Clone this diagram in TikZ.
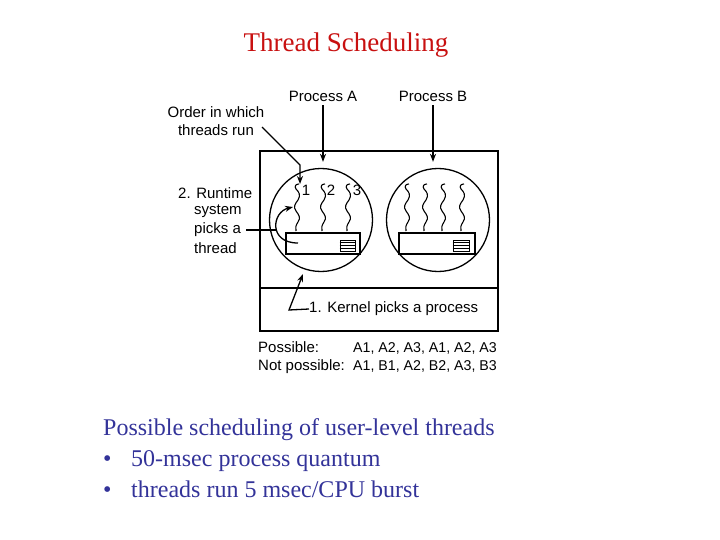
\documentclass[tikz,border=0pt]{standalone}
\usepackage{fontspec}
\setmainfont{Liberation Serif}
\newfontfamily\diag{Liberation Sans}
\usetikzlibrary{arrows.meta,calc}
\definecolor{titlered}{RGB}{200,16,16}
\definecolor{bodyblue}{RGB}{51,51,153}
\begin{document}
\begin{tikzpicture}[x=1pt,y=-1pt,
  lbl/.style={font=\diag\fontsize{15}{18}\selectfont, inner sep=0pt},
  lbls/.style={font=\diag\fontsize{14.2}{17}\selectfont, inner sep=0pt},
  arr/.style={-{Stealth[length=8pt,width=6pt]}, line width=1.3pt},
  thr/.style={line width=1.1pt},
  body/.style={font=\fontsize{24}{28}\selectfont, text=bodyblue, inner sep=0pt, anchor=base west},
  proc/.style={circle, draw, minimum size=103pt, inner sep=0pt, line width=1.3pt},
  tbl/.style={draw, line width=1.1pt, minimum height=21pt, inner sep=0pt},
  stripe/.style={draw, line width=0.9pt, minimum height=11pt, inner sep=0pt},
  wavy/.pic={\draw[thr] (2,0) .. controls (-1,0) and (-3,2) .. (-1,5)
     .. controls (2,8) and (4,11) .. (1,16)
     .. controls (-2,20) and (-4,23) .. (-1,27)
     .. controls (2,31) and (4,34) .. (1,38)
     .. controls (-1,41) and (-2,44) .. (-1,47);}]
\useasboundingbox (0,0) rectangle (720,540);

% title
\node[font=\fontsize{27}{30}\selectfont, text=titlered, inner sep=0pt] (title) at (346,45) {Thread Scheduling};

% outer box and kernel line
\node[draw, line width=1.6pt, minimum width=238pt, minimum height=180pt, inner sep=0pt, anchor=north west] (box) at (259,150) {};
\coordinate (kl) at (259,288);
\coordinate (kr) at (497,288);
\draw[line width=1.4pt] (kl) -- (kr);

% process circles
\node[proc] (ca) at (321,220) {};
\node[proc] (cb) at (438,220) {};

% thread tables
\node[tbl, minimum width=74pt] (ta) at (323,243.5) {};
\node[tbl, minimum width=76pt] (tb) at (437,243.5) {};
\node[stripe, minimum width=15pt] (sa) at (347.5,245.5) {};
\node[stripe, minimum width=16pt] (sb) at (461,245.5) {};
\foreach \s in {sa,sb}{
  \foreach \f in {0.25,0.5,0.75}{
    \draw[line width=1.1pt] ($(\s.north west)!\f!(\s.south west)$) -- ($(\s.north east)!\f!(\s.south east)$);
  }
}

% threads
\foreach \tx in {297,323,348,407,425,443,462}{
  \pic at (\tx,184) {wavy};
}
\node[lbl] (n1) at (306,190) {1};
\node[lbl] (n2) at (331,190) {2};
\node[lbl] (n3) at (357,190) {3};

% process labels and arrows
\node[lbl] (pa) at (323,96) {Process A};
\node[lbl] (pb) at (433,96) {Process B};
\draw[arr, shorten <=4pt, shorten >=6pt] (pa.south) -- (pa.south |- ca.north);
\draw[arr, shorten <=4pt, shorten >=6pt] (pb.south) -- (pb.south |- cb.north);

% order in which threads run
\node[lbl, align=center] (ord) at (216,121) {Order in which\\threads run};
\coordinate (o1) at (262,127);
\coordinate (o2) at (300,165);
\coordinate (o3) at (300,184);
\draw[arr] (o1) -- (o2) -- (o3);

% runtime system
\node[lbl, anchor=west] (rt1) at (178,193) {2. Runtime};
\node[lbl, anchor=west] (rt2) at (194,211) {system};
\node[lbl, anchor=west] (rt3) at (194,230) {picks a};
\node[lbl, anchor=west] (rt4) at (194,248) {thread};
\coordinate (rc) at (276,230);
\draw[line width=1.2pt] ([xshift=5pt]rt3.east) -- (rc);
\coordinate (c1) at (298,243);
\coordinate (c2) at (293,207);
\draw[arr] (c1) .. controls (268,243) and (272,212) .. (c2);

% kernel
\node[lbl, anchor=west] (kp) at (309,309) {1. Kernel picks a process};
\coordinate (k1) at (289,310);
\coordinate (k2) at (303,274);
\draw[arr] (kp.west) -- (k1) -- (k2);

% possible / not possible
\node[lbl, anchor=base west] (p1) at (258,352) {Possible:};
\node[lbl, anchor=base west] (p2) at (258,370) {Not possible:};
\node[lbls, anchor=base east] (q1) at (497,352) {A1, A2, A3, A1, A2, A3};
\node[lbls, anchor=base east] (q2) at (497,370) {A1, B1, A2, B2, A3, B3};

% bottom text
\node[body] (b0) at (103,435) {Possible scheduling of user-level threads};
\node[body] (bu1) at (103,466) {•};
\node[body] (b1) at (131,466) {50-msec process quantum};
\node[body] (bu2) at (103,497) {•};
\node[body] (b2) at (131,497) {threads run 5 msec/CPU burst};
\end{tikzpicture}
\end{document}
